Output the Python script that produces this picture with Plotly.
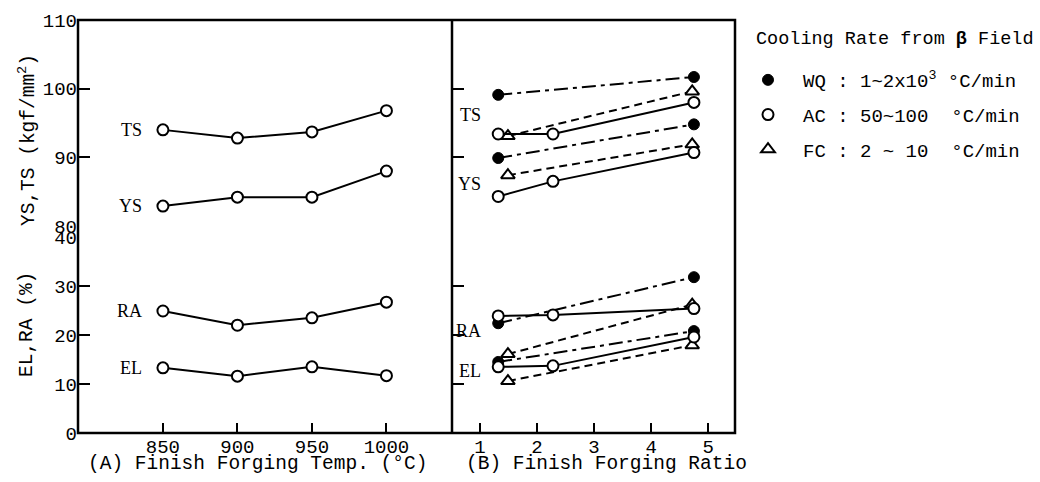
import plotly.graph_objects as go

# ---------------- data ----------------
temp = [850, 900, 950, 1000]
ts_temp = [94.0, 92.8, 93.7, 96.8]
ys_temp = [82.9, 84.2, 84.2, 88.0]
ra_temp = [24.9, 22.0, 23.5, 26.7]
el_temp = [13.3, 11.6, 13.5, 11.7]

ratio_wq = [1.32, 4.75]
ratio_ac = [1.32, 2.28, 4.75]
ratio_fc = [1.49, 4.72]

ts_wq = [99.1, 101.7]
ys_wq = [89.9, 94.8]
ra_wq = [22.4, 31.8]
el_wq = [14.5, 20.8]

ts_ac = [93.4, 93.4, 98.0]
ys_ac = [84.3, 86.5, 90.7]
ra_ac = [23.9, 24.1, 25.4]
el_ac = [13.5, 13.7, 19.6]

ts_fc = [93.1, 99.6]
ys_fc = [87.4, 91.9]
ra_fc = [16.1, 26.2]
el_fc = [10.6, 17.9]

temp_ticks = [850, 900, 950, 1000]
ratio_ticks = [1, 2, 3, 4, 5]
upper_ticks = [80, 90, 100, 110]
lower_ticks = [0, 10, 20, 30, 40]

legend_title = "Cooling Rate from <b>β</b> Field"
legend_names = ["WQ : 1~2x10<sup>3</sup> °C/min",
                "AC : 50~100\u00a0\u00a0°C/min",
                "FC : 2 ~ 10\u00a0\u00a0°C/min"]

# ---------------- geometry ----------------
W, H = 1040, 482
L, R, T, B = 78, 735, 20, 433
pw, ph = R - L, B - T


def px(x):
    return (x - L) / pw


def py(y):
    return (B - y) / ph


xsplit = px(452)
ydom_up = [py(226), 1.0]
ydom_lo = [0.0, py(237)]

MONO = "Liberation Mono"
SERIF = "Liberation Serif"
BLACK = "black"

fig = go.Figure()

open_circle = dict(symbol="circle", size=11, color="white", line=dict(color=BLACK, width=2))
filled_circle = dict(symbol="circle", size=11, color=BLACK, line=dict(color=BLACK, width=1))
open_tri = dict(symbol="triangle-up", size=12, color="white", line=dict(color=BLACK, width=2))

solid = dict(color=BLACK, width=2)
dashdot = dict(color=BLACK, width=2, dash="14px,5px,4px,5px")
dashed = dict(color=BLACK, width=2, dash="8px,5px")

# left panel
for yv, ya in [(ts_temp, "y"), (ys_temp, "y"), (ra_temp, "y2"), (el_temp, "y2")]:
    fig.add_trace(go.Scatter(x=temp, y=yv, xaxis="x", yaxis=ya, mode="lines+markers",
                             line=solid, marker=open_circle, showlegend=False))

# right panel
series = [
    (ratio_wq, [ts_wq, ys_wq], [ra_wq, el_wq], dashdot, filled_circle),
    (ratio_fc, [ts_fc, ys_fc], [ra_fc, el_fc], dashed, open_tri),
    (ratio_ac, [ts_ac, ys_ac], [ra_ac, el_ac], solid, open_circle),
]
for xv, ups, los, ln, mk in series:
    for yv in ups:
        fig.add_trace(go.Scatter(x=xv, y=yv, xaxis="x2", yaxis="y3", mode="lines+markers",
                                 line=ln, marker=mk, showlegend=False))
    for yv in los:
        fig.add_trace(go.Scatter(x=xv, y=yv, xaxis="x2", yaxis="y4", mode="lines+markers",
                                 line=ln, marker=mk, showlegend=False))

# legend-only entries
for i, (name, mk) in enumerate(zip(legend_names, [filled_circle, open_circle, open_tri])):
    fig.add_trace(go.Scatter(x=[None], y=[None], xaxis="x2", yaxis="y3", mode="markers",
                             marker=mk, name=name, legendgroup=f"g{i}", showlegend=True))

tickfont = dict(family=MONO, size=19, color=BLACK)
common_y = dict(showgrid=False, zeroline=False, showline=False, ticks="inside", ticklen=12,
                tickwidth=2, tickcolor=BLACK, tickfont=tickfont, fixedrange=True)
common_x = dict(showgrid=False, zeroline=False, showline=False, ticks="inside", ticklen=10,
                tickwidth=2, tickcolor=BLACK, tickfont=tickfont, fixedrange=True)

fig.update_layout(
    width=W, height=H,
    margin=dict(l=L, r=W - R, t=T, b=H - B, autoexpand=False),
    paper_bgcolor="white", plot_bgcolor="white",
    xaxis=dict(domain=[0, xsplit], range=[793, 1044], anchor="y2",
               tickvals=temp_ticks, **common_x),
    xaxis2=dict(domain=[xsplit, 1], range=[0.51, 5.47], anchor="y4",
                tickvals=ratio_ticks, **common_x),
    yaxis=dict(domain=ydom_up, range=[80, 110], anchor="x", tickvals=upper_ticks, **common_y),
    yaxis2=dict(domain=ydom_lo, range=[0, 40], anchor="x", tickvals=lower_ticks, **common_y),
    yaxis3=dict(domain=ydom_up, range=[80, 110], anchor="x2", tickvals=upper_ticks,
                showticklabels=False, **common_y),
    yaxis4=dict(domain=ydom_lo, range=[0, 40], anchor="x2", tickvals=lower_ticks,
                showticklabels=False, **common_y),
    legend=dict(x=px(733), xanchor="left", y=py(61), yanchor="top",
                font=dict(family=MONO, size=19, color=BLACK),
                itemwidth=60, tracegroupgap=7, traceorder="grouped",
                bgcolor="rgba(0,0,0,0)"),
    showlegend=True,
)

# frame
fig.add_shape(type="rect", xref="paper", yref="paper", x0=0, x1=1, y0=0, y1=1,
              line=dict(color=BLACK, width=2.5))
fig.add_shape(type="line", xref="paper", yref="paper", x0=xsplit, x1=xsplit, y0=0, y1=1,
              line=dict(color=BLACK, width=2.5))

lab = dict(family=SERIF, size=18, color=BLACK)
# series labels, left panel
for txt, yv, ya in [("TS", ts_temp[0], "y"), ("YS", ys_temp[0], "y"),
                    ("RA", ra_temp[0], "y2"), ("EL", el_temp[0], "y2")]:
    fig.add_annotation(x=temp[0], y=yv, xref="x", yref=ya, text=txt, showarrow=False,
                       xanchor="right", yanchor="middle", xshift=-19, font=lab)
# series labels, right panel
for txt, yv, ya in [("TS", 96.1, "y3"), ("YS", 86.1, "y3"), ("RA", 20.8, "y4"), ("EL", 12.7, "y4")]:
    fig.add_annotation(x=1.05, y=yv, xref="x2", yref=ya, text=txt, showarrow=False,
                       xanchor="right", yanchor="middle", font=lab)

ttl = dict(family=MONO, size=19.5, color=BLACK)
fig.add_annotation(x=px(27), y=py(140), xref="paper", yref="paper", textangle=-90,
                   xanchor="center", yanchor="middle",
                   text="YS,TS (kgf/mm<sup>2</sup>)", showarrow=False, font=ttl)
fig.add_annotation(x=px(27), y=py(325), xref="paper", yref="paper", textangle=-90,
                   xanchor="center", yanchor="middle",
                   text="EL,RA (%)", showarrow=False, font=ttl)
fig.add_annotation(x=px(257), y=py(464), xref="paper", yref="paper",
                   xanchor="center", yanchor="middle",
                   text="(A) Finish Forging Temp. (°C)", showarrow=False, font=ttl)
fig.add_annotation(x=px(606), y=py(464), xref="paper", yref="paper",
                   xanchor="center", yanchor="middle",
                   text="(B) Finish Forging Ratio", showarrow=False, font=ttl)
fig.add_annotation(x=px(754), y=py(40), xref="paper", yref="paper",
                   xanchor="left", yanchor="middle",
                   text=legend_title, showarrow=False,
                   font=dict(family=MONO, size=18.5, color=BLACK))

fig.write_html("out.html", config={"displayModeBar": False},
               post_script="document.body.style.margin='0';")
